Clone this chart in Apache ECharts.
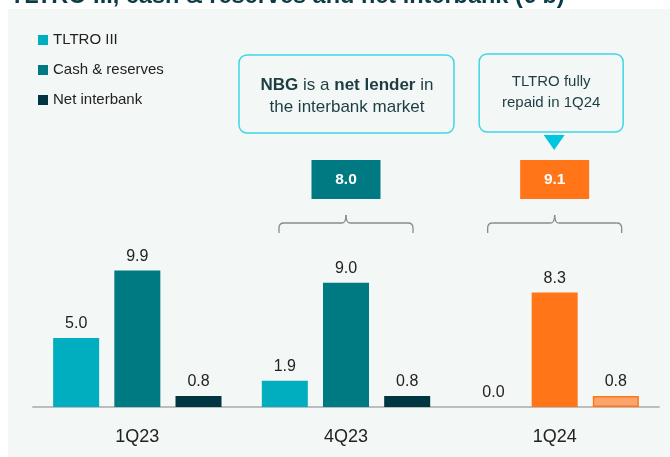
<!DOCTYPE html>
<html><head><meta charset="utf-8">
<script src="https://cdn.jsdelivr.net/npm/echarts@6/dist/echarts.min.js"></script>
<style>html,body{margin:0;padding:0;background:#fff}#c{width:670px;height:457px}</style>
</head><body><div id="c"></div>
<script>
const categories = ['1Q23', '4Q23', '1Q24'];
const seriesNames = ['TLTRO III', 'Cash & reserves', 'Net interbank'];
const tltro = [5.0, 1.9, 0.0];
const cash = [9.9, 9.0, 8.3];
const netInterbank = [0.8, 0.8, 0.8];
const totals = [null, 8.0, 9.1];
const titleText = 'TLTRO III, cash & reserves and net interbank (€ b)';

const FONT = '"Liberation Sans", Arial, sans-serif';
const C_TL = '#00aebf', C_CASH = '#007a82', C_NET = '#003641';
const C_OR = '#ff7518', C_OR_L = '#fba56d';
const BG = '#f3f7f5';

const chart = echarts.init(document.getElementById('c'), null, {renderer: 'canvas'});

function mk(name, data, color, lastColor, lastBorder) {
  return {
    name, type: 'bar', barWidth: 46, barGap: '33%',
    itemStyle: {color},
    data: data.map((v, i) => (i === 2 && lastColor) ? {value: v, itemStyle: {color: lastColor, borderColor: lastBorder || lastColor, borderWidth: lastBorder ? 1.5 : 0}} : v),
    label: {show: true, position: 'top', distance: 6, formatter: p => p.value.toFixed(1),
      fontFamily: FONT, fontSize: 16, color: '#222'}
  };
}

chart.setOption({
  animation: false,
  backgroundColor: '#fff',
  textStyle: {fontFamily: FONT},
  grid: {left: 33, right: 11, top: 131, bottom: 50},
  legend: {
    orient: 'vertical', left: 33, top: 27, itemWidth: 10, itemHeight: 10, itemGap: 14,
    icon: 'rect', data: seriesNames,
    textStyle: {fontFamily: FONT, fontSize: 15, color: '#222', lineHeight: 16}
  },
  xAxis: {
    type: 'category', data: categories,
    axisLine: {lineStyle: {color: '#bdbdbd', width: 2}},
    axisTick: {show: false},
    axisLabel: {fontFamily: FONT, fontSize: 18, color: '#222', margin: 21}
  },
  yAxis: {type: 'value', min: 0, max: 20, show: false, splitLine: {show: false}},
  series: [
    mk(seriesNames[0], tltro, C_TL),
    mk(seriesNames[1], cash, C_CASH, C_OR),
    mk(seriesNames[2], netInterbank, C_NET, C_OR_L, C_OR)
  ]
});

const cx = categories.map(c => chart.convertToPixel({xAxisIndex: 0}, c));
const g = [];
// panel background
g.push({type: 'rect', z: -10, silent: true, shape: {x: 8, y: 9, width: 662, height: 448}, style: {fill: BG}});
// cut-off title
g.push({type: 'text', z: 5, style: {text: titleText, x: 10, y: 9, textVerticalAlign: 'bottom',
  font: 'bold 23.5px ' + FONT, fill: '#0b3c46'}});

const BR = {stroke: '#8a8a8a', lineWidth: 1.3, fill: null};
function brace(c) {
  const x0 = c - 67, x1 = c + 67;
  return [
    {type: 'line', shape: {x1: x0, y1: 233, x2: x0, y2: 228}, style: BR},
    {type: 'bezierCurve', shape: {x1: x0, y1: 228, x2: x0 + 5, y2: 223, cpx1: x0, cpy1: 223}, style: BR},
    {type: 'line', shape: {x1: x0 + 5, y1: 223, x2: c - 4, y2: 223}, style: BR},
    {type: 'bezierCurve', shape: {x1: c - 4, y1: 223, x2: c, y2: 215, cpx1: c, cpy1: 223}, style: BR},
    {type: 'bezierCurve', shape: {x1: c + 4, y1: 223, x2: c, y2: 215, cpx1: c, cpy1: 223}, style: BR},
    {type: 'line', shape: {x1: c + 4, y1: 223, x2: x1 - 5, y2: 223}, style: BR},
    {type: 'bezierCurve', shape: {x1: x1 - 5, y1: 223, x2: x1, y2: 228, cpx1: x1, cpy1: 223}, style: BR},
    {type: 'line', shape: {x1: x1, y1: 228, x2: x1, y2: 233}, style: BR}
  ];
}
function totalBox(c, v, color) {
  return [{type: 'rect', shape: {x: c - 34.5, y: 160, width: 69, height: 39}, style: {fill: color}},
    {type: 'text', style: {text: v.toFixed(1), x: c, y: 180, textAlign: 'center', textVerticalAlign: 'middle',
      font: 'bold 15.5px ' + FONT, fill: '#fff'}}];
}
totals.forEach((v, i) => {
  if (v == null) return;
  g.push(...brace(cx[i]));
  g.push(...totalBox(cx[i], v, i === 2 ? C_OR : C_CASH));
});
// callout 1
g.push({type: 'rect', shape: {x: cx[1] - 107, y: 55, width: 215, height: 78, r: 8},
  style: {fill: BG, stroke: '#3ed6e8', lineWidth: 1.5}});
g.push({type: 'text', style: {
  text: '{b|NBG} is a {b|net lender} in\nthe interbank market', x: cx[1] + 1, y: 96,
  textAlign: 'center', textVerticalAlign: 'middle', font: '17px ' + FONT, fill: '#1d3d43', lineHeight: 22,
  rich: {b: {fontWeight: 'bold', fontSize: 17, fontFamily: FONT, fill: '#1d3d43', lineHeight: 22}}}});
// callout 2
g.push({type: 'rect', shape: {x: cx[2] - 75.5, y: 54, width: 144, height: 78, r: 8},
  style: {fill: BG, stroke: '#3ed6e8', lineWidth: 1.5}});
g.push({type: 'text', style: {
  text: 'TLTRO fully\nrepaid in 1Q24', x: cx[2] - 3.5, y: 92.5,
  textAlign: 'center', textVerticalAlign: 'middle', font: '15px ' + FONT, fill: '#1d3d43', lineHeight: 21}});
g.push({type: 'polygon', shape: {points: [[cx[2] - 11, 135], [cx[2] + 10, 135], [cx[2] - 0.5, 150]]}, style: {fill: '#00c6df'}});

chart.setOption({graphic: g});
</script></body></html>
